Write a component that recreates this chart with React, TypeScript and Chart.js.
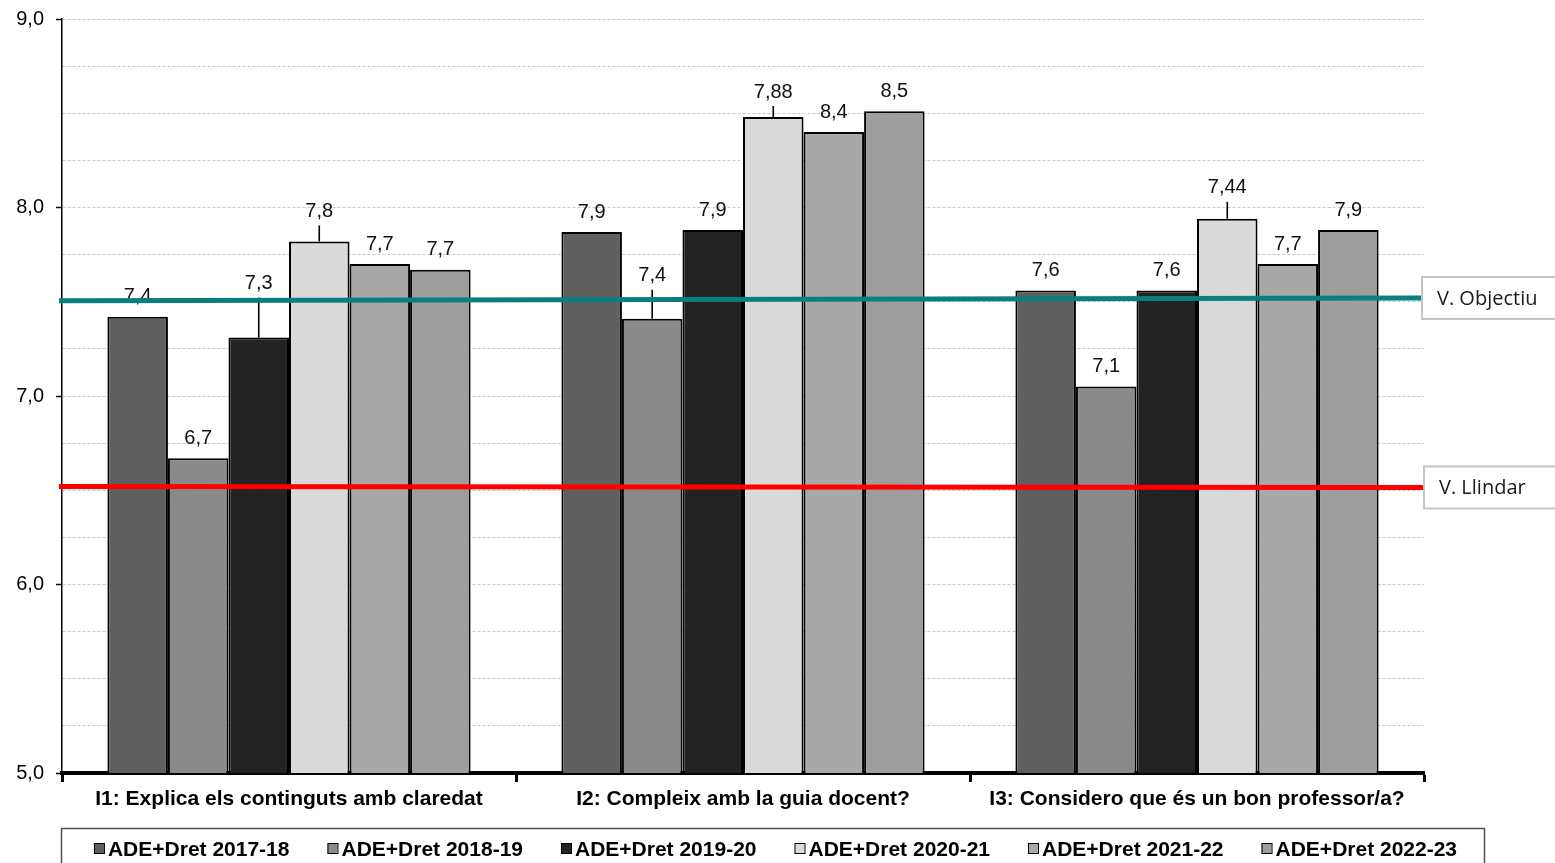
import React, { useEffect, useRef } from "react";
import { Chart, registerables } from "chart.js";

Chart.register(...registerables);

// ---------- data ----------
const categories = [
  "I1: Explica els continguts amb claredat",
  "I2: Compleix amb la guia docent?",
  "I3: Considero que és un bon professor/a?",
];
const seriesNames = [
  "ADE+Dret 2017-18",
  "ADE+Dret 2018-19",
  "ADE+Dret 2019-20",
  "ADE+Dret 2020-21",
  "ADE+Dret 2021-22",
  "ADE+Dret 2022-23",
];
const values1718 = [7.42, 7.87, 7.56];
const values1819 = [6.67, 7.41, 7.05];
const values1920 = [7.31, 7.88, 7.56];
const values2021 = [7.82, 8.48, 7.94];
const values2122 = [7.7, 8.4, 7.7];
const values2223 = [7.67, 8.51, 7.88];

const labels1718 = ["7,4", "7,9", "7,6"];
const labels1819 = ["6,7", "7,4", "7,1"];
const labels1920 = ["7,3", "7,9", "7,6"];
const labels2021 = ["7,8", "7,88", "7,44"];
const labels2122 = ["7,7", "8,4", "7,7"];
const labels2223 = ["7,7", "8,5", "7,9"];

const objectiveName = "V. Objectiu";
const objectiveLine = [7.505, 7.52]; // value at left edge, value at right edge
const thresholdName = "V. Llindar";
const thresholdLine = [6.52, 6.515];

const yMin = 5;
const yMax = 9;
const yStep = 0.25;

// ---------- styles / layout ----------
const seriesValues = [values1718, values1819, values1920, values2021, values2122, values2223];
const seriesLabels = [labels1718, labels1819, labels1920, labels2021, labels2122, labels2223];
const seriesColors = ["#5f5f5f", "#8a8a8a", "#232323", "#dadada", "#a8a8a8", "#9e9e9e"];
// extra lift (px) for labels moved up with a leader line, per series per category
const labelLift = [
  [0, 0, 0],
  [0, 23, 0],
  [34, 0, 0],
  [10, 5, 11],
  [0, 0, 0],
  [0, 0, 0],
];
const ARIAL = "'Liberation Sans', Arial, sans-serif";
const SANS = "'Open Sans', 'Noto Sans', sans-serif";

const overlayPlugin = {
  id: "overlay",
  afterDatasetsDraw(chart: any) {
    const ctx = chart.ctx;
    const y = chart.scales.y;
    const area = chart.chartArea;
    ctx.save();
    // data labels
    ctx.font = `20px ${ARIAL}`;
    ctx.fillStyle = "#111";
    ctx.textAlign = "center";
    ctx.textBaseline = "middle";
    ctx.strokeStyle = "#000";
    ctx.lineWidth = 1.6;
    chart.data.datasets.forEach((ds: any, di: number) => {
      const meta = chart.getDatasetMeta(di);
      meta.data.forEach((bar: any, i: number) => {
        const lift = labelLift[di][i];
        const cy = bar.y - 20 - lift;
        ctx.fillText(seriesLabels[di][i], bar.x, cy);
        if (lift > 0) {
          ctx.beginPath();
          ctx.moveTo(bar.x, cy + 14);
          ctx.lineTo(bar.x, bar.y);
          ctx.stroke();
        }
      });
    });
    // reference lines
    const lines = [
      { vals: objectiveLine, color: "#088080", name: objectiveName, boxLeft: 1422 },
      { vals: thresholdLine, color: "#ff0000", name: thresholdName, boxLeft: 1424 },
    ];
    lines.forEach((ln) => {
      const y0 = y.getPixelForValue(ln.vals[0]);
      const y1 = y.getPixelForValue(ln.vals[1]);
      ctx.beginPath();
      ctx.strokeStyle = ln.color;
      ctx.lineWidth = 5;
      ctx.moveTo(area.left - 3, y0);
      ctx.lineTo(ln.boxLeft, y1);
      ctx.stroke();
      // label box
      const bh = 42;
      ctx.fillStyle = "#fff";
      ctx.fillRect(ln.boxLeft, y1 - bh / 2, 160, bh);
      ctx.strokeStyle = "#c4c4c4";
      ctx.lineWidth = 2;
      ctx.strokeRect(ln.boxLeft, y1 - bh / 2, 160, bh);
      ctx.fillStyle = "#1a1a1a";
      ctx.font = `20px ${SANS}`;
      ctx.textAlign = "left";
      ctx.textBaseline = "middle";
      ctx.fillText(ln.name, ln.boxLeft + 15, y1 + 1);
    });
    ctx.restore();
  },
  afterDraw(chart: any) {
    const ctx = chart.ctx;
    ctx.save();
    // legend frame
    ctx.strokeStyle = "#505050";
    ctx.lineWidth = 1.5;
    ctx.strokeRect(61.5, 828.5, 1423, 60);
    ctx.font = `bold 21px ${ARIAL}`;
    const widths = seriesNames.map((n) => 15 + ctx.measureText(n).width);
    const gap = 37;
    const total = widths.reduce((a, b) => a + b, 0) + gap * (widths.length - 1);
    let x = 775 - total / 2;
    seriesNames.forEach((n, i) => {
      ctx.fillStyle = seriesColors[i];
      ctx.fillRect(x + 1, 843, 10, 11);
      ctx.strokeStyle = "#000";
      ctx.lineWidth = 1;
      ctx.strokeRect(x + 1.5, 843.5, 10, 10);
      ctx.fillStyle = "#000";
      ctx.textAlign = "left";
      ctx.textBaseline = "alphabetic";
      ctx.fillText(n, x + 15, 856);
      x += widths[i] + gap;
    });
    ctx.restore();
  },
};

export default function App() {
  const canvasRef = useRef<HTMLCanvasElement | null>(null);

  useEffect(() => {
    if (!canvasRef.current) return;
    const chart = new Chart(canvasRef.current, {
      type: "bar",
      data: {
        labels: categories,
        datasets: seriesNames.map((name, i) => ({
          label: name,
          data: seriesValues[i],
          backgroundColor: seriesColors[i],
          borderColor: "#000",
          borderWidth: 2,
          categoryPercentage: 0.8,
          barPercentage: 1.0,
        })),
      },
      options: {
        responsive: false,
        animation: false,
        devicePixelRatio: 1,
        layout: { padding: { top: 19, right: 131, left: 0, bottom: 0 } },
        plugins: {
          legend: { display: false },
          tooltip: { enabled: false },
          title: { display: false },
        },
        scales: {
          x: {
            type: "category",
            offset: true,
            afterFit: (s: any) => {
              s.height = 90;
            },
            grid: {
              display: true,
              drawOnChartArea: false,
              drawTicks: true,
              offset: true,
              tickLength: 9,
              tickWidth: 3,
              tickColor: "#000",
            },
            border: { display: true, color: "#000", width: 4 },
            ticks: {
              color: "#000",
              font: { family: ARIAL, size: 21, weight: "bold" },
              padding: 5,
              maxRotation: 0,
              autoSkip: false,
            },
          },
          y: {
            type: "linear",
            min: yMin,
            max: yMax,
            afterFit: (s: any) => {
              s.width = 62;
              s.paddingTop = 0;
              s.paddingBottom = 0;
            },
            ticks: {
              stepSize: yStep,
              color: "#000",
              font: { family: ARIAL, size: 20 },
              padding: 12,
              autoSkip: false,
              callback: (v: any) =>
                Number.isInteger(Number(v)) ? Number(v).toFixed(1).replace(".", ",") : "",
            },
            grid: {
              color: "#c8c8c8",
              lineWidth: 1,
              drawTicks: true,
              tickLength: 6,
              tickBorderDash: [],
              tickWidth: 1.5,
              tickColor: (c: any) =>
                c.tick && Number.isInteger(Number(c.tick.value)) ? "#000" : "rgba(0,0,0,0)",
            },
            border: { display: true, color: "#000", width: 1.5, dash: [3, 2] as any },
          },
        },
      } as any,
      plugins: [overlayPlugin],
    });
    return () => chart.destroy();
  }, []);

  return (
    <div style={{ position: "fixed", left: 0, top: 0, width: 1555, height: 863, background: "#fff" }}>
      <canvas ref={canvasRef} width={1555} height={863} style={{ width: 1555, height: 863, display: "block" }} />
    </div>
  );
}
